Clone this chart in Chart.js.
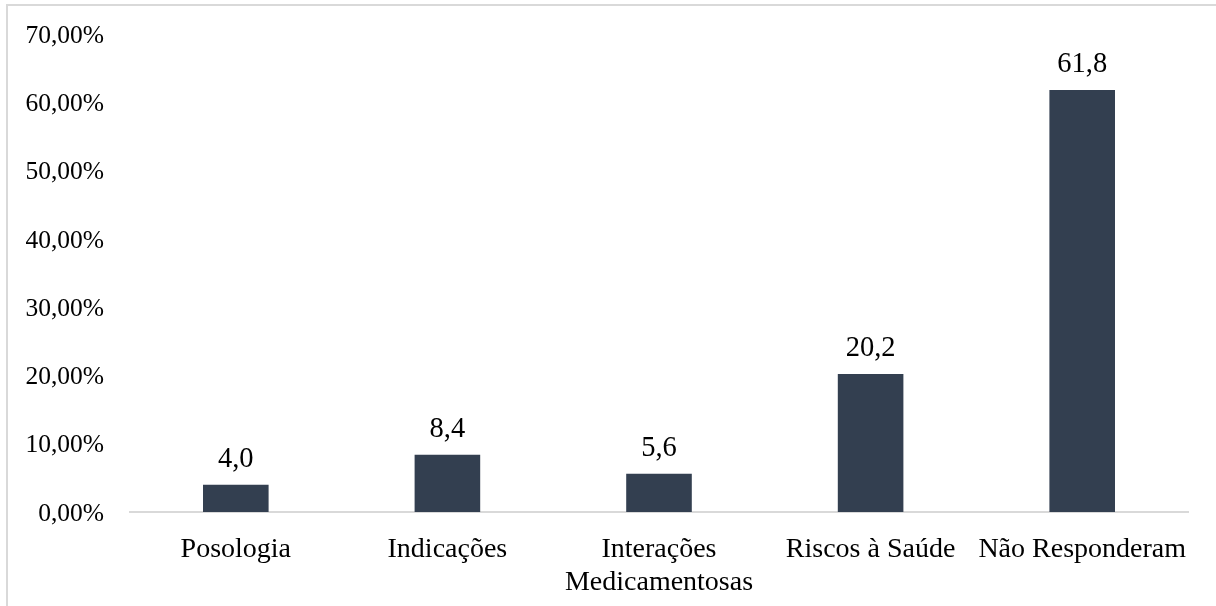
<!DOCTYPE html>
<html>
<head>
<meta charset="utf-8">
<script src="https://cdn.jsdelivr.net/npm/chart.js@4"></script>
<style>
  html, body { margin: 0; padding: 0; background: #fff; }
  #wrap { width: 1216px; height: 606px; position: relative; }
</style>
</head>
<body>
<div id="wrap"><canvas id="c" width="1216" height="606"></canvas></div>
<script>
const categories = ["Posologia", "Indicações", ["Interações", "Medicamentosas"], "Riscos à Saúde", "Não Responderam"];
const values = [4.0, 8.4, 5.6, 20.2, 61.8];
const yTicks = [0, 10, 20, 30, 40, 50, 60, 70];

const FONT = "'Liberation Serif', 'Times New Roman', serif";
const FS_Y = 25.5;
const FS_X = 28;
const FS_LBL = 28.5;

const frame = {
  id: 'frame',
  beforeDraw(chart) {
    const ctx = chart.ctx;
    ctx.save();
    ctx.fillStyle = '#fff';
    ctx.fillRect(0, 0, chart.width, chart.height);
    ctx.strokeStyle = '#d9d9d9';
    ctx.lineWidth = 2;
    ctx.beginPath();
    ctx.moveTo(7, chart.height);
    ctx.lineTo(7, 5);
    ctx.lineTo(chart.width, 5);
    ctx.stroke();
    ctx.restore();
  }
};

const dataLabels = {
  id: 'dataLabels',
  afterDatasetsDraw(chart) {
    const ctx = chart.ctx;
    const meta = chart.getDatasetMeta(0);
    ctx.save();
    ctx.fillStyle = '#000';
    ctx.font = FS_LBL + 'px ' + FONT;
    ctx.textAlign = 'center';
    ctx.textBaseline = 'alphabetic';
    meta.data.forEach((bar, i) => {
      const txt = values[i].toFixed(1).replace('.', ',');
      ctx.fillText(txt, bar.x, bar.y - 18);
    });
    ctx.restore();
  }
};

new Chart(document.getElementById('c'), {
  type: 'bar',
  data: {
    labels: categories,
    datasets: [{
      data: values,
      backgroundColor: '#333f50',
      borderWidth: 0,
      barPercentage: 0.31,
      categoryPercentage: 1.0
    }]
  },
  options: {
    responsive: false,
    animation: false,
    devicePixelRatio: 1,
    layout: { padding: { top: 34, right: 28, left: 0, bottom: 0 } },
    plugins: { legend: { display: false }, tooltip: { enabled: false } },
    scales: {
      x: {
        grid: { display: false, drawTicks: false },
        border: { display: true, color: '#d9d9d9', width: 2 },
        ticks: {
          color: '#000',
          font: { family: FONT, size: FS_X, lineHeight: 1.18 },
          padding: 21,
          maxRotation: 0,
          autoSkip: false
        },
        afterFit(scale) { scale.height = 94; scale.paddingLeft = 0; scale.paddingRight = 0; }
      },
      y: {
        min: 0,
        max: 70,
        afterBuildTicks(scale) { scale.ticks = yTicks.map(v => ({ value: v })); },
        grid: { display: false, drawTicks: false },
        border: { display: false },
        ticks: {
          color: '#000',
          font: { family: FONT, size: FS_Y },
          padding: 26,
          labelOffset: 2,
          callback: v => Number(v).toFixed(2).replace('.', ',') + '%'
        },
        afterFit(scale) { scale.width = 130; scale.paddingTop = 0; scale.paddingBottom = 0; }
      }
    }
  },
  plugins: [frame, dataLabels]
});
</script>
</body>
</html>
